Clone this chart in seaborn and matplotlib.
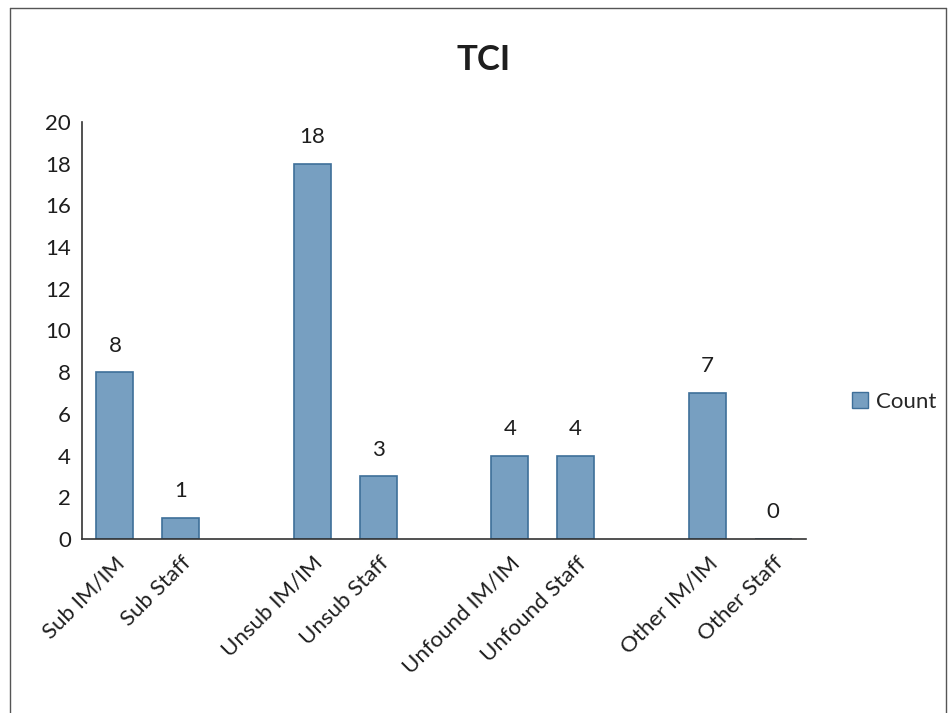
import matplotlib
matplotlib.use("Agg")
import matplotlib.pyplot as plt
import seaborn as sns
import pandas as pd
from matplotlib.patches import Patch
from matplotlib.lines import Line2D

# ---- data ----
categories = ["Sub IM/IM", "Sub Staff", "Unsub IM/IM", "Unsub Staff",
              "Unfound IM/IM", "Unfound Staff", "Other IM/IM", "Other Staff"]
counts = [8, 1, 18, 3, 4, 4, 7, 0]
# slot order with blank gaps between groups
slot_order = ["Sub IM/IM", "Sub Staff", " ", "Unsub IM/IM", "Unsub Staff", "  ",
              "Unfound IM/IM", "Unfound Staff", "   ", "Other IM/IM", "Other Staff"]
y_ticks = list(range(0, 21, 2))
title = "TCI"
series_name = "Count"

df = pd.DataFrame({"category": categories, "count": counts})

sns.set_theme(style="white")
plt.rcParams["font.family"] = ["Lato", "DejaVu Sans"]

fill = "#779fc1"
edge = "#3e6f99"
txt = "#1e1e1e"

fig = plt.figure(figsize=(9.49, 7.13), dpi=100)
ax = fig.add_axes([82/949, 1-539/713, (806-82)/949, (539-122)/713])

sns.barplot(data=df, x="category", y="count", order=slot_order, ax=ax,
            color=fill, edgecolor=edge, linewidth=1.2, width=0.56,
            saturation=1, errorbar=None)

ax.set_ylim(0, 20)
ax.set_xlim(-0.5, len(slot_order) - 0.5)
ax.set_yticks(y_ticks)
ax.set_yticklabels([str(t) for t in y_ticks], fontsize=16, color=txt)
ax.set_xlabel("")
ax.set_ylabel("")

labels = [s if s.strip() else "" for s in slot_order]
ax.set_xticks(range(len(slot_order)))
ax.set_xticklabels(labels, rotation=45, ha="right", va="top",
                   rotation_mode="anchor", fontsize=16, color=txt)
ax.tick_params(axis="both", length=0, pad=8)
ax.tick_params(axis="x", pad=10)

for s in ["top", "right"]:
    ax.spines[s].set_visible(False)
for s in ["left", "bottom"]:
    ax.spines[s].set_color("#333333")
    ax.spines[s].set_linewidth(1.2)

# data labels
for c in ax.containers:
    ax.bar_label(c, labels=[f"{int(v)}" if v == v else "" for v in c.datavalues],
                 padding=12, fontsize=16, color=txt)

fig.text(484/949, 1-60/713, title, ha="center", va="center",
         fontsize=25, fontweight="bold", color=txt)

handle = Patch(facecolor=fill, edgecolor=edge, linewidth=1.0)
fig.legend([handle], [series_name], loc="center left",
           bbox_to_anchor=(832/949, 1-402/713), frameon=False,
           fontsize=16, handlelength=0.7, handleheight=0.7, handletextpad=0.4)

# outer chart border
for xs, ys in [((10/949, 10/949), (0, 1-8/713)),
               ((10/949, 946/949), (1-8/713, 1-8/713)),
               ((946/949, 946/949), (0, 1-8/713))]:
    fig.add_artist(Line2D(xs, ys, transform=fig.transFigure,
                          color="#555555", linewidth=1.0))

fig.savefig("out.png", dpi=100)
